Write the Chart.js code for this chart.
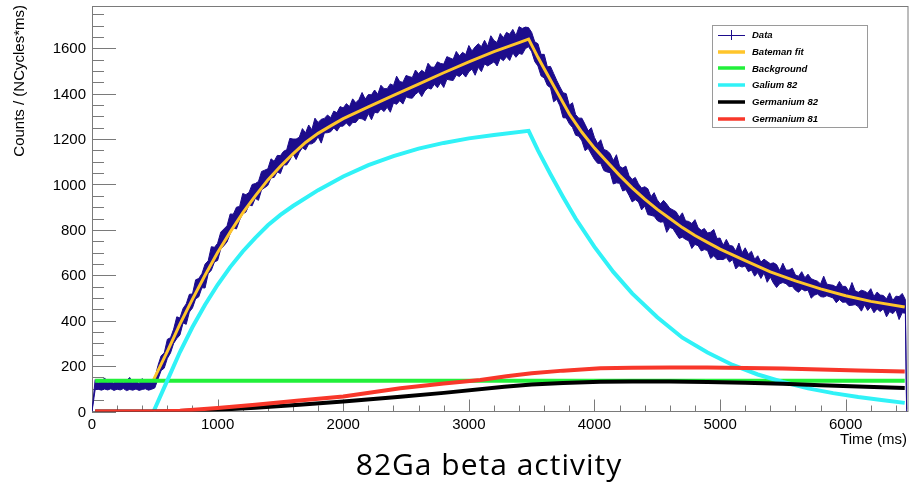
<!DOCTYPE html>
<html>
<head>
<meta charset="utf-8">
<title>82Ga beta activity</title>
<script src="https://cdn.jsdelivr.net/npm/chart.js@4.4.1/dist/chart.umd.min.js"></script>
<style>
html, body { margin: 0; padding: 0; background: #fff; }
#wrap { width: 912px; height: 484px; position: relative; }
</style>
</head>
<body>
<div id="wrap"><canvas id="myChart"></canvas></div>
<script>
// data histogram, read as the low / high edge of the noise band, 25 ms bins from 0 ms
const binWidth = 25;
const dataLow = [
  0,96,98,94,99,95,100,93,98,95,101,92,97,94,99,93,97,100,94,98,
  104,142,180,191,234,258,300,321,337,390,384,438,456,496,505,545,544,607,622,659,
  665,716,730,747,783,809,804,843,871,878,910,906,939,930,977,986,996,1029,1031,1055,
  1048,1086,1086,1107,1135,1110,1141,1162,1152,1178,1179,1188,1210,1182,1227,1228,1232,1249,1235,1256,
  1257,1271,1256,1273,1273,1291,1289,1281,1312,1285,1318,1315,1333,1321,1340,1318,1359,1353,1369,1354,
  1386,1381,1380,1397,1408,1387,1412,1425,1420,1441,1426,1448,1427,1463,1460,1458,1482,1475,1489,1473,
  1496,1508,1481,1516,1497,1531,1522,1531,1540,1522,1556,1545,1563,1546,1579,1560,1577,1573,1598,1607,
  1585,1541,1522,1478,1469,1436,1426,1364,1375,1346,1294,1293,1267,1251,1217,1212,1192,1149,1159,1134,
  1110,1093,1093,1061,1055,1052,1002,1007,1005,971,977,952,923,933,923,888,905,867,864,860,
  841,834,836,789,811,805,783,762,768,758,752,718,736,730,707,713,709,674,686,669,
  670,669,678,658,669,628,642,636,641,616,623,596,612,586,610,569,592,565,546,563,
  568,563,550,551,534,525,540,531,535,499,512,518,506,504,510,505,500,479,493,481,
  482,467,468,471,462,442,470,445,461,435,452,440,452,417,440,431,447,405,435,433
];
const dataHigh = [
  0,140,126,131,148,128,133,124,142,129,127,136,150,127,132,123,145,130,134,128,
  146,202,245,258,318,325,363,417,412,454,474,516,518,580,586,607,649,664,726,723,
  741,790,804,818,870,869,900,903,960,955,965,1000,1004,1013,1057,1063,1069,1113,1102,1128,
  1127,1146,1153,1203,1200,1200,1208,1246,1227,1262,1241,1292,1273,1287,1291,1306,1294,1323,1316,1343,
  1337,1356,1343,1377,1360,1374,1405,1376,1396,1395,1416,1397,1437,1422,1422,1443,1436,1477,1453,1450,
  1480,1475,1471,1504,1488,1503,1492,1534,1517,1516,1540,1533,1530,1563,1557,1551,1586,1566,1582,1572,
  1612,1588,1606,1620,1607,1635,1609,1655,1634,1625,1665,1646,1670,1662,1683,1656,1695,1687,1693,1691,
  1670,1628,1620,1573,1573,1518,1520,1489,1458,1430,1404,1400,1349,1360,1308,1292,1292,1265,1236,1250,
  1207,1180,1197,1154,1149,1136,1105,1131,1080,1072,1081,1039,1022,1031,1003,984,990,981,946,964,
  932,914,930,914,895,888,880,857,875,840,837,828,845,810,798,806,786,790,802,762,
  764,732,758,731,729,707,742,699,721,693,706,671,686,658,671,661,651,655,647,621,
  653,623,623,631,601,596,616,589,605,585,579,574,562,596,561,558,556,548,573,551,
  551,530,568,532,525,534,530,522,541,507,526,513,511,496,523,489,508,506,520,493
];
// last bin edge where the histogram drops back to 0
const dropTime = 6485;
const dropLow = 0;
const dropHigh = 10;

const batemanTime = [486, 600, 700, 800, 900, 1000, 1100, 1200, 1300, 1400, 1500, 1600, 1700, 1800, 1900, 2000, 2200, 2400, 2600, 2800, 3000, 3200, 3400, 3476, 3550, 3600, 3700, 3800, 3900, 4000, 4100, 4200, 4300, 4400, 4500, 4600, 4700, 4800, 4900, 5000, 5200, 5400, 5600, 5800, 6000, 6200, 6470];
const bateman = [135, 265, 385, 495, 600, 700, 790, 875, 950, 1020, 1080, 1135, 1185, 1225, 1258, 1290, 1342, 1392, 1442, 1492, 1540, 1585, 1625, 1640, 1560, 1510, 1410, 1310, 1230, 1160, 1100, 1040, 985, 935, 890, 850, 810, 775, 745, 715, 665, 615, 575, 540, 510, 485, 460];

const bgTime = [25, 6470];
const background = [135, 135];

const gaTime = [490, 600, 700, 800, 900, 1000, 1100, 1200, 1300, 1400, 1500, 1600, 1800, 2000, 2200, 2400, 2600, 2800, 3000, 3200, 3476, 3550, 3650, 3750, 3850, 4000, 4150, 4300, 4500, 4700, 4900, 5100, 5300, 5500, 5700, 5900, 6100, 6300, 6470];
const galium82 = [0, 137, 262, 372, 470, 558, 636, 705, 765, 820, 866, 905, 975, 1035, 1085, 1125, 1158, 1183, 1203, 1218, 1236, 1150, 1045, 945, 850, 725, 615, 520, 415, 325, 260, 205, 163, 130, 102, 81, 64, 50, 38];

const ge82Time = [25, 500, 700, 1000, 1300, 1650, 2000, 2455, 2800, 3282, 3500, 3750, 4047, 4300, 4600, 4900, 5200, 5500, 5800, 6100, 6470];
const germanium82 = [0, 0, 2, 8, 17, 30, 44, 65, 82, 109, 119, 126, 131, 132, 132, 130, 127, 122, 116, 110, 104];

const ge81Time = [25, 500, 700, 1000, 1300, 1650, 2000, 2455, 2800, 3091, 3300, 3500, 3750, 4047, 4300, 4600, 4900, 5200, 5500, 5800, 6100, 6470];
const germanium81 = [0, 0, 3, 15, 30, 48, 66, 102, 123, 139, 155, 168, 180, 190, 193, 194, 194, 192, 189, 185, 181, 176];

const xTickLabels = [0, 1000, 2000, 3000, 4000, 5000, 6000];
const yTickLabels = [0, 200, 400, 600, 800, 1000, 1200, 1400, 1600];

const legendItems = [
  {label: 'Data', color: '#1d0c8c', data: true},
  {label: 'Bateman fit', color: '#ffc52b'},
  {label: 'Background', color: '#22f03a'},
  {label: 'Galium 82', color: '#30f2f7'},
  {label: 'Germanium 82', color: '#000000'},
  {label: 'Germanium 81', color: '#f8372a'}
];

const pts = (xs, ys) => xs.map((x, i) => ({x, y: ys[i]}));
const binTime = dataLow.map((_, i) => i * binWidth);
const lowPts = pts(binTime, dataLow).concat({x: dropTime, y: dropLow});
const highPts = pts(binTime, dataHigh).concat({x: dropTime, y: dropHigh});

const navy = '#1d0c8c';
const labelFont = '15px "Liberation Sans", Arial, sans-serif';

const rootLook = {
  id: 'rootLook',
  beforeDatasetsDraw(chart) {
    const {ctx, chartArea: a, scales: {x, y}} = chart;
    ctx.save();
    ctx.strokeStyle = '#7a7a7a';
    ctx.lineWidth = 1;
    ctx.beginPath();
    for (let v = 0; v <= 6500; v += 200) {
      const px = Math.round(x.getPixelForValue(v)) + 0.5;
      ctx.moveTo(px, a.bottom);
      ctx.lineTo(px, a.bottom - (v % 1000 === 0 ? 12 : 6));
    }
    for (let v = 0; v <= y.max; v += 50) {
      const py = Math.round(y.getPixelForValue(v)) + 0.5;
      ctx.moveTo(a.left, py);
      ctx.lineTo(a.left + (v % 200 === 0 ? 24 : 12), py);
    }
    ctx.stroke();
    ctx.strokeRect(a.left + 0.5, a.top + 0.5, a.right - a.left - 1, a.bottom - a.top - 0.5);

    // tick labels
    ctx.fillStyle = '#000';
    ctx.font = labelFont;
    ctx.textAlign = 'center';
    ctx.textBaseline = 'alphabetic';
    xTickLabels.forEach(v => ctx.fillText(String(v), x.getPixelForValue(v), 429));
    ctx.textAlign = 'right';
    ctx.textBaseline = 'middle';
    yTickLabels.forEach(v => ctx.fillText(String(v), 86, y.getPixelForValue(v) + 1));
    ctx.restore();
  },
  afterDraw(chart) {
    const {ctx} = chart;
    ctx.save();
    ctx.fillStyle = '#000';

    ctx.font = labelFont;
    ctx.textAlign = 'right';
    ctx.textBaseline = 'alphabetic';
    ctx.fillText('Time (ms)', 907, 444);

    ctx.save();
    ctx.translate(24, 5);
    ctx.rotate(-Math.PI / 2);
    ctx.fillText('Counts / (NCycles*ms)', 0, 0);
    ctx.restore();

    ctx.font = '30px "Open Sans", sans-serif';
    ctx.letterSpacing = '1px';
    ctx.textAlign = 'center';
    ctx.fillText('82Ga beta activity', 489, 475);
    ctx.letterSpacing = '0px';

    // legend box
    ctx.fillStyle = '#fff';
    ctx.fillRect(712, 25, 155, 102);
    ctx.strokeStyle = '#9a9a9a';
    ctx.lineWidth = 1;
    ctx.strokeRect(712.5, 25.5, 155, 102);
    ctx.font = 'italic bold 9.5px "Liberation Sans", Arial, sans-serif';
    ctx.textAlign = 'left';
    ctx.textBaseline = 'middle';
    legendItems.forEach((it, i) => {
      const ly = 35 + i * 16.7;
      ctx.strokeStyle = it.color;
      ctx.lineWidth = it.data ? 1 : 3.5;
      ctx.beginPath();
      ctx.moveTo(718, Math.round(ly) + (it.data ? 0.5 : 0));
      ctx.lineTo(745, Math.round(ly) + (it.data ? 0.5 : 0));
      if (it.data) {
        ctx.moveTo(731.5, ly - 5);
        ctx.lineTo(731.5, ly + 5);
      }
      ctx.stroke();
      ctx.fillStyle = '#000';
      ctx.fillText(it.label, 752, ly + 0.5);
    });
    ctx.restore();
  }
};

const line = (label, data, color, width, order) => ({
  label, data, borderColor: color, borderWidth: width,
  pointRadius: 0, tension: 0, fill: false, order
});

new Chart(document.getElementById('myChart'), {
  type: 'line',
  data: {
    datasets: [
      {label: 'Data', data: highPts, borderColor: navy, backgroundColor: navy,
       borderWidth: 1, pointRadius: 0, tension: 0, fill: '+1', order: 6},
      {label: 'Data low', data: lowPts, borderColor: navy, borderWidth: 1,
       pointRadius: 0, tension: 0, fill: false, order: 6},
      line('Bateman fit', pts(batemanTime, bateman), '#ffc52b', 3, 5),
      line('Background', pts(bgTime, background), '#22f03a', 4, 4),
      line('Galium 82', pts(gaTime, galium82), '#30f2f7', 4, 3),
      line('Germanium 82', pts(ge82Time, germanium82), '#000000', 4, 2),
      line('Germanium 81', pts(ge81Time, germanium81), '#f8372a', 4, 1)
    ]
  },
  options: {
    responsive: true,
    maintainAspectRatio: false,
    animation: false,
    events: [],
    layout: {padding: {top: 6, right: 3.5, left: 0, bottom: 0}},
    plugins: {legend: {display: false}, tooltip: {enabled: false}},
    scales: {
      x: {
        type: 'linear', min: 0, max: 6500,
        grid: {display: false, drawTicks: false},
        border: {display: false},
        ticks: {display: false, stepSize: 1000},
        afterFit: s => { s.height = 72.5; s.paddingLeft = 0; s.paddingRight = 0; }
      },
      y: {
        min: 0, max: 1786,
        grid: {display: false, drawTicks: false},
        border: {display: false},
        ticks: {display: false, stepSize: 200},
        afterFit: s => { s.width = 92; s.paddingTop = 0; s.paddingBottom = 0; }
      }
    }
  },
  plugins: [rootLook]
});
</script>
</body>
</html>
